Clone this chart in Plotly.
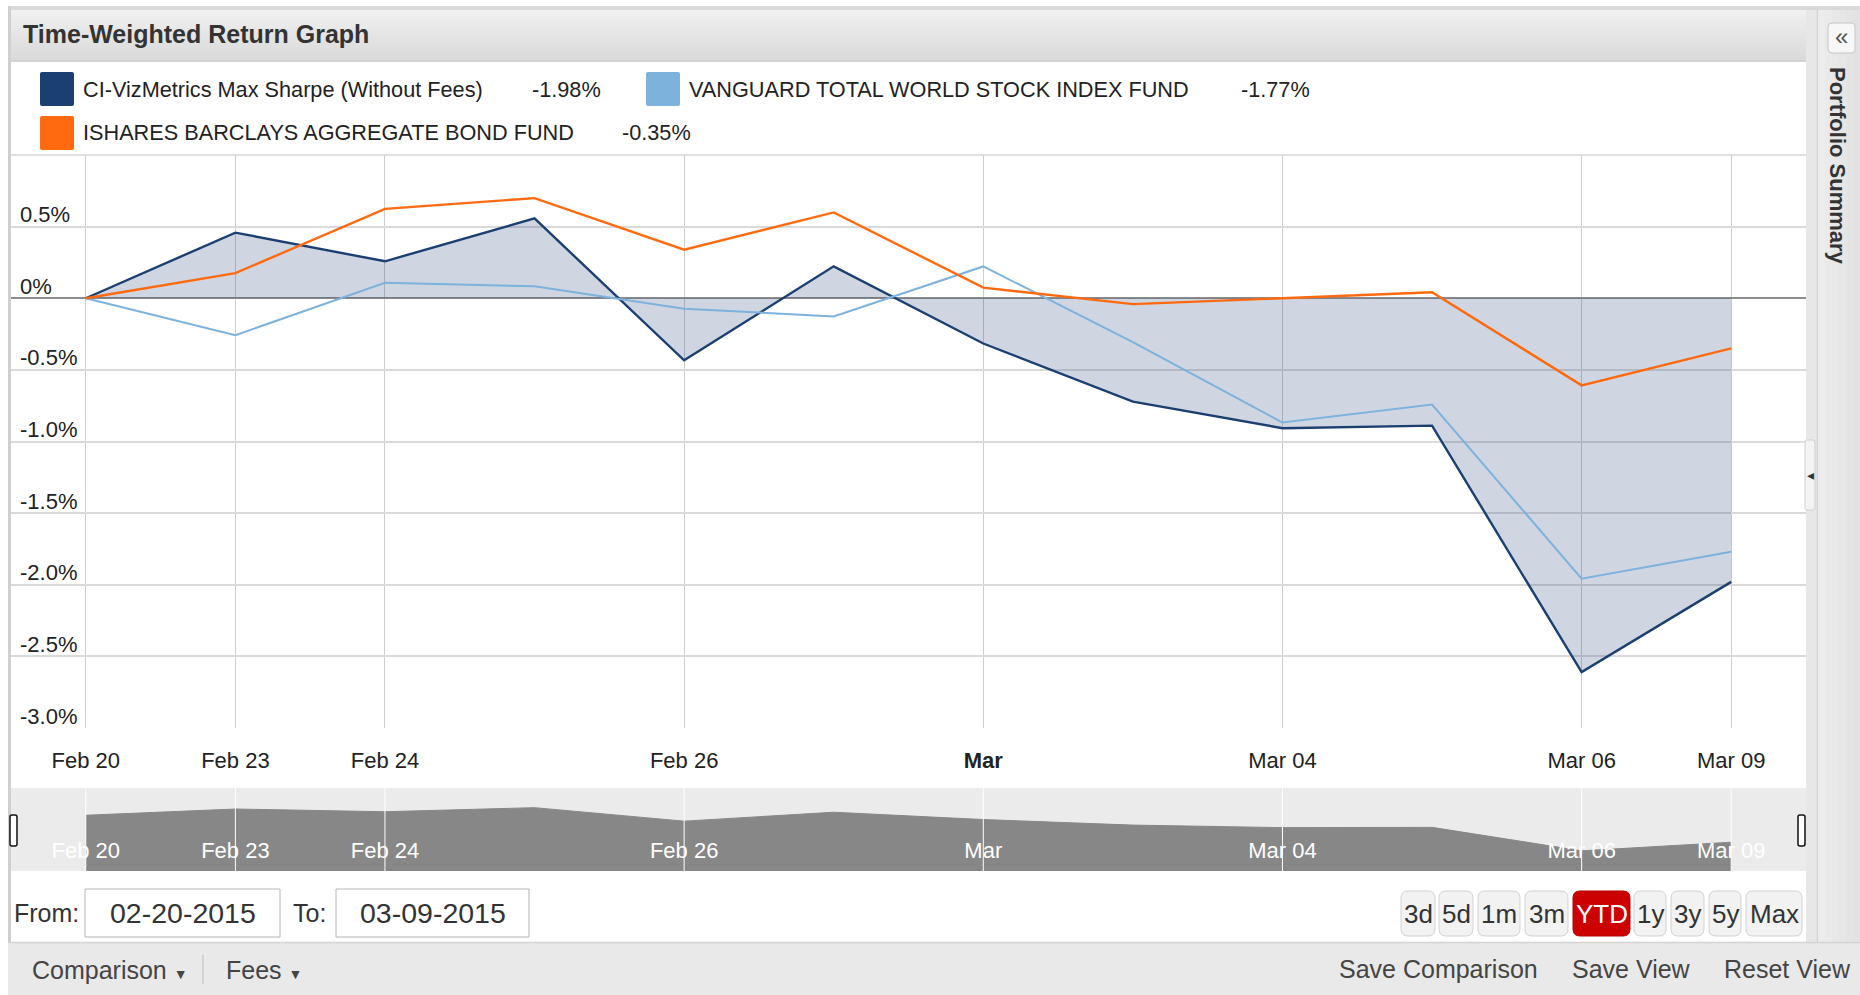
import plotly.graph_objects as go

# ---------------- data ----------------
dates = ["Feb 20", "Feb 23", "Feb 24", "Feb 25", "Feb 26", "Feb 27",
         "Mar 02", "Mar 03", "Mar 04", "Mar 05", "Mar 06", "Mar 09"]
ci_vizmetrics = [0.0, 0.458, 0.258, 0.557, -0.433, 0.223,
                 -0.316, -0.722, -0.907, -0.889, -2.61, -1.98]
vanguard = [0.0, -0.258, 0.108, 0.083, -0.073, -0.127,
            0.222, -0.306, -0.868, -0.742, -1.958, -1.77]
ishares = [0.0, 0.175, 0.624, 0.699, 0.339, 0.599,
           0.074, -0.041, 0.0, 0.042, -0.608, -0.35]

series_names = ["CI-VizMetrics Max Sharpe (Without Fees)",
                "VANGUARD TOTAL WORLD STOCK INDEX FUND",
                "ISHARES BARCLAYS AGGREGATE BOND FUND"]
series_final = ["-1.98%", "-1.77%", "-0.35%"]

x_tick_vals = ["Feb 20", "Feb 23", "Feb 24", "Feb 26", "Mar 02", "Mar 04", "Mar 06", "Mar 09"]
x_tick_text = ["Feb 20", "Feb 23", "Feb 24", "Feb 26", "<b>Mar</b>", "Mar 04", "Mar 06", "Mar 09"]
nav_tick_text = ["Feb 20", "Feb 23", "Feb 24", "Feb 26", "Mar", "Mar 04", "Mar 06", "Mar 09"]
y_tick_vals = [0.5, 0.0, -0.5, -1.0, -1.5, -2.0, -2.5, -3.0]
y_tick_text = ["0.5%", "0%", "-0.5%", "-1.0%", "-1.5%", "-2.0%", "-2.5%", "-3.0%"]

from_date = "02-20-2015"
to_date = "03-09-2015"
range_buttons = ["3d", "5d", "1m", "3m", "YTD", "1y", "3y", "5y", "Max"]
selected_button = "YTD"

# ---------------- style ----------------
W, H = 1860, 995
FONT = "Liberation Sans, Arial, sans-serif"
DARK = "#1C3F72"
LIGHT = "#7DB2DD"
ORANGE = "#FF6A10"
FILL = "rgba(28,63,114,0.21)"
NAV_RANGE = [-4.09, 2.0]
Y_RANGE = [-3.0, 1.0]
X_RANGE = [-0.5, 11.5]


def px(x):
    return x / W


def py(y):
    return 1 - y / H


shapes = []
annotations = []


def rect(x0, y0, x1, y1, fill, line=None, lw=0, layer="below"):
    shapes.append(dict(type="rect", xref="paper", yref="paper",
                       x0=px(x0), x1=px(x1), y0=py(y1), y1=py(y0),
                       fillcolor=fill, layer=layer,
                       line=dict(color=line or fill, width=lw)))


def hline(x0, x1, y, color, w=1, layer="below"):
    shapes.append(dict(type="line", xref="paper", yref="paper",
                       x0=px(x0), x1=px(x1), y0=py(y), y1=py(y),
                       line=dict(color=color, width=w), layer=layer))


def vline(x, y0, y1, color, w=1, layer="below"):
    shapes.append(dict(type="line", xref="paper", yref="paper",
                       x0=px(x), x1=px(x), y0=py(y0), y1=py(y1),
                       line=dict(color=color, width=w), layer=layer))


def rrect(x0, y0, x1, y1, r, fill, line, lw=1, layer="below"):
    def P(x, y):
        return f"{px(x):.6f},{py(y):.6f}"
    path = (f"M {P(x0 + r, y0)} L {P(x1 - r, y0)} Q {P(x1, y0)} {P(x1, y0 + r)} "
            f"L {P(x1, y1 - r)} Q {P(x1, y1)} {P(x1 - r, y1)} L {P(x0 + r, y1)} "
            f"Q {P(x0, y1)} {P(x0, y1 - r)} L {P(x0, y0 + r)} Q {P(x0, y0)} {P(x0 + r, y0)} Z")
    shapes.append(dict(type="path", xref="paper", yref="paper", path=path,
                       fillcolor=fill, line=dict(color=line, width=lw), layer=layer))


def text(x, y, s, size=21, color="#333333", xanchor="left", bold=False, angle=0):
    annotations.append(dict(xref="paper", yref="paper", x=px(x), y=py(y),
                            text=f"<b>{s}</b>" if bold else s, showarrow=False,
                            xanchor=xanchor, yanchor="middle", textangle=angle,
                            font=dict(family=FONT, size=size, color=color)))


# ---------------- page chrome ----------------
rect(8, 6, W, 10, "#D9D9D9")
rect(8, 6, 11, H, "#CFCFCF")
# title bar gradient
n_strips = 17
for i in range(n_strips):
    y0 = 10 + i * 51 / n_strips
    c = int(240 - 22 * i / (n_strips - 1))
    rect(11, y0, 1806, y0 + 51 / n_strips + 0.5, f"rgb({c},{c},{c})")
hline(11, 1806, 61, "#CCCCCC", 1.5)
text(21, 34, "Time-Weighted Return Graph", size=25, color="#333333", bold=True)

# legend
legend_colors = [DARK, LIGHT, ORANGE]
legend_layout = [(40, 72, 81, 530), (646, 72, 687, 1239), (40, 116, 81, 620)]
for name, val, col, (sx, sy, tx, vx) in zip(series_names, series_final, legend_colors, legend_layout):
    rrect(sx, sy, sx + 34, sy + 34, 2, col, col, 0)
    text(tx, sy + 17, name, size=21.7, color="#222222")
    text(vx, sy + 17, val, size=21.7, color="#222222")

hline(11, 1806, 155, "#D6D6D6", 1.5)

# navigator background
rect(11, 788, 1806, 871, "#EBEBEB")

# right side strip and panel
rect(1806, 10, 1817, 942, "#E7E7E7")
vline(1817.5, 10, 942, "#D2D2D2", 1.5)
for i in range(6):
    x0 = 1818 + i * 7
    c = int(236 - 2 * i)
    rect(x0, 10, x0 + 7.5, 942, f"rgb({c},{c},{c})")
rrect(1828, 23, 1855, 53, 4, "#F7F7F7", "#C6C6C6", 1)
text(1841.5, 37, "«", size=24, color="#555555", xanchor="center")
text(1837, 166, "Portfolio Summary", size=22, color="#333333", bold=True, angle=90,
     xanchor="center")
rrect(1805, 440, 1815, 510, 2, "#F3F3F3", "#D0D0D0", 1)
text(1810, 475, "◂", size=14, color="#333333", xanchor="center")

# from / to row
text(12, 913, "From:", size=25, color="#333333")
rect(85, 889, 280, 937, "#FFFFFF", "#B4B4B4", 1)
text(182.5, 913, from_date, size=28.5, color="#333333", xanchor="center")
text(291, 913, "To:", size=25, color="#333333")
rect(336, 889, 529, 937, "#FFFFFF", "#B4B4B4", 1)
text(432.5, 913, to_date, size=28.5, color="#333333", xanchor="center")

# range buttons
button_bounds = [(1401, 1435), (1439, 1473), (1478, 1520), (1525, 1568), (1573, 1630),
                 (1634, 1666), (1671, 1704), (1709, 1741), (1746, 1802)]
for lab, (bx0, bx1) in zip(range_buttons, button_bounds):
    sel = lab == selected_button
    rrect(bx0, 891, bx1, 936, 7, "#CC0000" if sel else "#F2F2F2",
          "#B80000" if sel else "#D2D2D2", 1)
    text((bx0 + bx1) / 2, 913.5, lab, size=26, color="#FFFFFF" if sel else "#333333",
         xanchor="center")

# bottom toolbar
rect(8, 942, W, H, "#E9E9E9")
hline(8, W, 942.5, "#D3D3D3", 1.5)
tri = "<span style='font-size:14px'>▼</span>"
text(30, 970, f"Comparison {tri}", size=25, color="#444444")
vline(203, 955, 984, "#BDBDBD", 1)
text(224, 970, f"Fees {tri}", size=25, color="#444444")
text(1337, 969, "Save Comparison", size=25, color="#444444")
text(1570, 969, "Save View", size=25, color="#444444")
text(1722, 969, "Reset View", size=25, color="#444444")

# navigator handles
for hx in (10, 1798):
    rrect(hx, 815, hx + 7, 846, 2, "#FFFFFF", "#111111", 1.5, layer="above")

# navigator white gridlines (above the navigator area)
for tv in x_tick_vals:
    shapes.append(dict(type="line", xref="x2", yref="paper", x0=tv, x1=tv,
                       y0=py(871), y1=py(788), line=dict(color="#FFFFFF", width=1),
                       layer="above"))

# y tick labels (placed above their gridlines, inside the plot)
for tv, tt in zip(y_tick_vals, y_tick_text):
    annotations.append(dict(xref="paper", yref="y", x=px(18), y=tv, text=tt,
                            showarrow=False, xanchor="left", yanchor="middle",
                            yshift=12, font=dict(family=FONT, size=22, color="#222222")))

# ---------------- traces ----------------
fig = go.Figure()
fig.add_trace(go.Scatter(x=dates, y=ci_vizmetrics, mode="lines", fill="tozeroy",
                         fillcolor=FILL, line=dict(color=DARK, width=2.4),
                         name=series_names[0], xaxis="x", yaxis="y"))
fig.add_trace(go.Scatter(x=dates, y=vanguard, mode="lines",
                         line=dict(color=LIGHT, width=2),
                         name=series_names[1], xaxis="x", yaxis="y"))
fig.add_trace(go.Scatter(x=dates, y=ishares, mode="lines",
                         line=dict(color=ORANGE, width=2.4),
                         name=series_names[2], xaxis="x", yaxis="y"))
# navigator
fig.add_trace(go.Scatter(x=dates, y=[NAV_RANGE[0]] * len(dates), mode="lines",
                         line=dict(width=0, color="#878787"), xaxis="x2", yaxis="y2",
                         hoverinfo="skip"))
fig.add_trace(go.Scatter(x=dates, y=ci_vizmetrics, mode="lines", fill="tonexty",
                         fillcolor="#878787", line=dict(color="#878787", width=1),
                         xaxis="x2", yaxis="y2", hoverinfo="skip"))

fig.update_layout(
    width=W, height=H,
    margin=dict(l=0, r=0, t=0, b=0),
    paper_bgcolor="#FFFFFF", plot_bgcolor="rgba(0,0,0,0)",
    showlegend=False,
    font=dict(family=FONT, size=20, color="#333333"),
    xaxis=dict(type="category", categoryorder="array", categoryarray=dates,
               range=X_RANGE, domain=[px(11), px(1806)], anchor="y",
               tickmode="array", tickvals=x_tick_vals, ticktext=x_tick_text,
               showgrid=True, gridcolor="#CDCDCD", gridwidth=1,
               ticks="", ticklabelstandoff=17, zeroline=False, showline=False,
               tickfont=dict(family=FONT, size=22, color="#222222"), fixedrange=True),
    yaxis=dict(range=Y_RANGE, domain=[py(728), py(155)], anchor="x",
               tickmode="array", tickvals=y_tick_vals,
               showgrid=True, gridcolor="#DADADA", gridwidth=1.5,
               zeroline=True, zerolinecolor="#8C8C8C", zerolinewidth=1.6,
               ticks="", showticklabels=False, showline=False, fixedrange=True),
    xaxis2=dict(type="category", categoryorder="array", categoryarray=dates,
                range=X_RANGE, domain=[px(11), px(1806)], anchor="y2",
                tickmode="array", tickvals=x_tick_vals, ticktext=nav_tick_text,
                showgrid=False, ticks="", ticklabelposition="inside",
                ticklabelstandoff=6, zeroline=False, showline=False,
                tickfont=dict(family=FONT, size=22, color="#FFFFFF"), fixedrange=True),
    yaxis2=dict(range=NAV_RANGE, domain=[py(871), py(788)], anchor="x2",
                visible=False, fixedrange=True),
    shapes=shapes,
    annotations=annotations,
)

fig.write_html("out.html", config={"displayModeBar": False},
               post_script="document.body.style.margin='0';document.body.style.overflow='hidden';")
